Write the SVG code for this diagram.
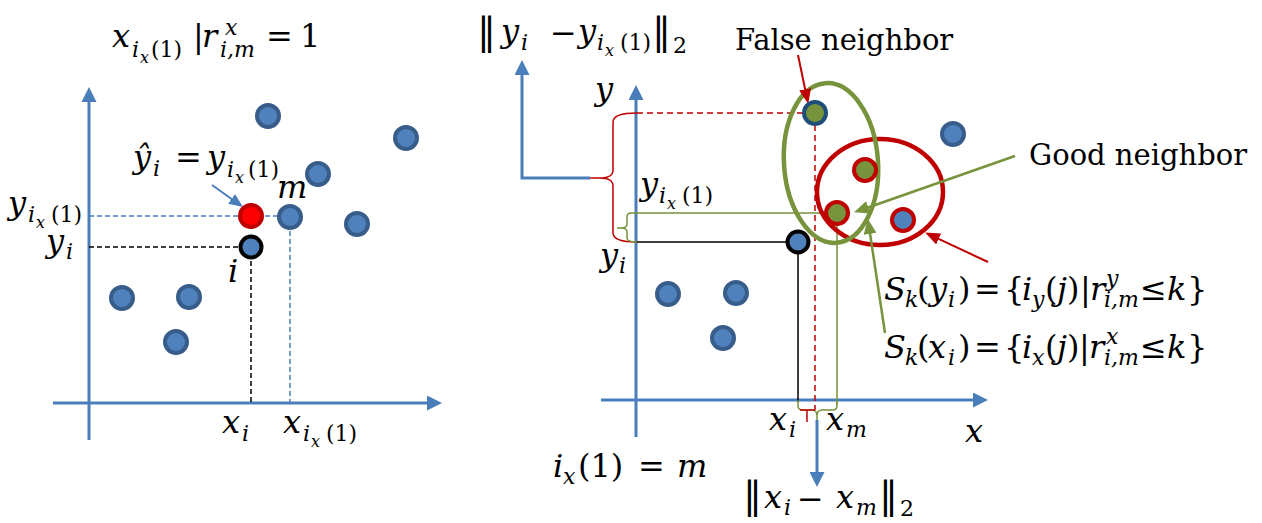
<svg xmlns="http://www.w3.org/2000/svg" width="1262" height="523" viewBox="0 0 1262 523">
<style>
text{font-family:"DejaVu Serif","Liberation Serif",serif;fill:#000}
.t{font-size:29px}
.m{font-size:32px;font-style:italic}
.s{font-size:22px}
.ss{font-size:16px}
.n{font-style:normal}
.nb{font-style:normal;font-size:38px}
.ax{stroke:#4A7EBB;stroke-width:3;fill:none}
.pt{fill:#4F81BD;stroke:#385D8A;stroke-width:4}
.pr{fill:#FF0000;stroke:#C00000;stroke-width:4}
.pi{fill:#4F81BD;stroke:#000;stroke-width:4}
.pg{fill:#77933C;stroke:#C00000;stroke-width:4}
.pf{fill:#77933C;stroke:#1F4E79;stroke-width:4}
.pb{fill:#4F81BD;stroke:#C00000;stroke-width:4}
.db{stroke:#4A7EBB;stroke-width:1.5;stroke-dasharray:5 3;fill:none}
.dk{stroke:#000;stroke-width:1.5;stroke-dasharray:5 3;fill:none}
.dr{stroke:#C00000;stroke-width:1.5;stroke-dasharray:6 4;fill:none}
</style>
<defs>
<marker id="axb" markerWidth="15" markerHeight="15" refX="5" refY="7.5" orient="auto" markerUnits="userSpaceOnUse"><path d="M0,0 L15,7.5 L0,15 z" fill="#4A7EBB"/></marker>
<marker id="sb" markerWidth="14" markerHeight="12" refX="10" refY="6" orient="auto" markerUnits="userSpaceOnUse"><path d="M0,0 L14,6 L0,12 z" fill="#4A7EBB"/></marker>
<marker id="sr" markerWidth="15" markerHeight="12" refX="10" refY="6" orient="auto" markerUnits="userSpaceOnUse"><path d="M0,0 L15,6 L0,12 z" fill="#C00000"/></marker>
<marker id="sg" markerWidth="15" markerHeight="13" refX="10" refY="6.5" orient="auto" markerUnits="userSpaceOnUse"><path d="M0,0 L15,6.5 L0,13 z" fill="#77933C"/></marker>
</defs>
<rect width="1262" height="523" fill="#fff"/>

<g id="connectors">
  <!-- left chart -->
  <line class="ax" x1="89" y1="440" x2="89" y2="97" marker-end="url(#axb)"/>
  <line class="ax" x1="53" y1="403" x2="432" y2="403" marker-end="url(#axb)"/>
  <path class="db" d="M89 216 H290 V403"/>
  <path class="dk" d="M89 247 H251 V403"/>
  <line x1="212" y1="185" x2="239.7" y2="204.7" stroke="#4A7EBB" stroke-width="2" marker-end="url(#sb)"/>
  <!-- right chart -->
  <line class="ax" x1="636" y1="437" x2="636" y2="95" marker-end="url(#axb)"/>
  <line class="ax" x1="601" y1="400" x2="978" y2="400" marker-end="url(#axb)"/>
  <path class="dr" d="M637 113 H815 V410"/>
  <path d="M637 113 Q613 113 613 122 L613 170 Q613 178 600 178 L590 178 M600 178 Q613 178 613 186 L613 233 Q613 242 637 242" stroke="#C00000" stroke-width="1.5" fill="none"/>
  <path d="M590 178 L522 178 L522 70" class="ax" marker-end="url(#axb)"/>
  <path d="M837 213 L631 213 Q627 213 627 217 L627 224 Q627 228 621 228 L617 228 M621 228 Q627 228 627 232 L627 238 Q627 242 637 242" stroke="#77933C" stroke-width="1.5" fill="none"/>
  <path d="M637 242 H798 V402" stroke="#000" stroke-width="1.5" fill="none"/>
  <path d="M837 213 V404" stroke="#77933C" stroke-width="1.5" fill="none"/>
  <path d="M798 400 L798 406 Q798 410 803 410 L812 410 Q817 410 817 416 L817 420 M817 416 Q817 410 822 410 L832 410 Q837 410 837 406 L837 400" stroke="#77933C" stroke-width="1.5" fill="none"/>
  <path d="M800 410 H815 M807 410 V422" stroke="#C00000" stroke-width="1.5" fill="none"/>
  <line class="ax" x1="817" y1="420" x2="817" y2="477" marker-end="url(#axb)"/>
  <ellipse cx="880" cy="192" rx="63" ry="53" fill="none" stroke="#C00000" stroke-width="4.5"/>
  <ellipse cx="831" cy="163" rx="47" ry="80" fill="none" stroke="#77933C" stroke-width="4.5" transform="rotate(-4 831 163)"/>
  <line x1="798" y1="55" x2="807.2" y2="99.1" stroke="#C00000" stroke-width="2" marker-end="url(#sr)"/>
  <line x1="1015" y1="156" x2="858.8" y2="210.7" stroke="#77933C" stroke-width="2.5" marker-end="url(#sg)"/>
  <line x1="885" y1="333" x2="868.6" y2="224" stroke="#77933C" stroke-width="2.5" marker-end="url(#sg)"/>
  <line x1="988" y1="262" x2="929.6" y2="234.7" stroke="#C00000" stroke-width="2" marker-end="url(#sr)"/>
</g>

<g id="left-points">
  <g id="L1"><circle class="pt" cx="268" cy="116" r="11"/></g>
  <g id="L2"><circle class="pt" cx="406" cy="138" r="11"/></g>
  <g id="L3"><circle class="pt" cx="318" cy="174" r="11"/></g>
  <g id="Lm"><circle class="pt" cx="290" cy="217" r="11"/></g>
  <g id="L5"><circle class="pt" cx="357" cy="224" r="11"/></g>
  <g id="Lhat"><circle class="pr" cx="251" cy="216" r="11"/></g>
  <g id="Li"><circle class="pi" cx="251" cy="247" r="10.5"/></g>
  <g id="L7"><circle class="pt" cx="122" cy="298" r="11"/></g>
  <g id="L8"><circle class="pt" cx="189" cy="297" r="11"/></g>
  <g id="L9"><circle class="pt" cx="176" cy="342" r="11"/></g>
</g>

<g id="right-points">
  <g id="Rfalse"><circle class="pf" cx="815" cy="113" r="11"/></g>
  <g id="Rg1"><circle class="pg" cx="865" cy="170" r="11"/></g>
  <g id="Rgood"><circle class="pg" cx="837" cy="213" r="11"/></g>
  <g id="Rb1"><circle class="pb" cx="903" cy="220" r="11"/></g>
  <g id="Rb2"><circle class="pt" cx="953" cy="134" r="11"/></g>
  <g id="Ri"><circle class="pi" cx="798" cy="242" r="10.5"/></g>
  <g id="R7"><circle class="pt" cx="668" cy="294" r="11"/></g>
  <g id="R8"><circle class="pt" cx="736" cy="293" r="11"/></g>
  <g id="R9"><circle class="pt" cx="723" cy="338" r="11"/></g>
</g>

<g id="labels">
  <!-- title left -->
  <text class="m"><tspan x="112" y="47">x</tspan><tspan class="s" x="132" y="57">i</tspan><tspan class="ss" x="140" y="63">x</tspan><tspan class="s n" x="151" y="57">(1)</tspan><tspan class="n" x="193" y="47">|</tspan><tspan x="202" y="47">r</tspan><tspan class="s" x="225" y="35">x</tspan><tspan class="s" x="220" y="57">i,m</tspan><tspan class="n" x="266" y="47">=</tspan><tspan class="n" x="300" y="47">1</tspan></text>
  <!-- y hat -->
  <text class="m"><tspan x="133" y="168">ŷ</tspan><tspan class="s" x="153" y="176">i</tspan><tspan class="n" x="175" y="168">=</tspan><tspan x="207" y="168">y</tspan><tspan class="s" x="227" y="177">i</tspan><tspan class="ss" x="235" y="183">x</tspan><tspan class="s n" x="248" y="177">(1)</tspan></text>
  <text class="m" x="277" y="198">m</text>
  <text class="m"><tspan x="8" y="214">y</tspan><tspan class="s" x="28" y="222">i</tspan><tspan class="ss" x="36" y="228">x</tspan><tspan class="s n" x="51" y="222">(1)</tspan></text>
  <text class="m"><tspan x="46" y="252">y</tspan><tspan class="s" x="66" y="259">i</tspan></text>
  <text class="m" x="228" y="282">i</text>
  <text class="m"><tspan x="222" y="433">x</tspan><tspan class="s" x="242" y="441">i</tspan></text>
  <text class="m"><tspan x="283" y="433">x</tspan><tspan class="s" x="303" y="441">i</tspan><tspan class="ss" x="311" y="447">x</tspan><tspan class="s n" x="326" y="441">(1)</tspan></text>

  <!-- right chart -->
  <text class="m"><tspan class="nb" x="477" y="44">‖</tspan><tspan x="501" y="42">y</tspan><tspan class="s" x="521" y="50">i</tspan><tspan class="n" x="550" y="44">−</tspan><tspan x="578" y="42">y</tspan><tspan class="s" x="597" y="50">i</tspan><tspan class="ss" x="605" y="56">x</tspan><tspan class="s n" x="620" y="50">(1)</tspan><tspan class="nb" x="652" y="44">‖</tspan><tspan class="s n" x="673" y="53">2</tspan></text>
  <text class="t" x="735" y="50">False neighbor</text>
  <text class="t" x="1029" y="165">Good neighbor</text>
  <text class="m" x="595" y="100">y</text>
  <text class="m"><tspan x="640" y="195">y</tspan><tspan class="s" x="659" y="203">i</tspan><tspan class="ss" x="667" y="209">x</tspan><tspan class="s n" x="682" y="203">(1)</tspan></text>
  <text class="m"><tspan x="600" y="266">y</tspan><tspan class="s" x="619" y="273">i</tspan></text>
  <text class="m"><tspan x="769" y="430">x</tspan><tspan class="s" x="789" y="437">i</tspan></text>
  <text class="m"><tspan x="826" y="430">x</tspan><tspan class="s" x="846" y="437">m</tspan></text>
  <text class="m" x="965" y="442">x</text>
  <text class="m"><tspan x="553" y="477">i</tspan><tspan class="s" x="563" y="484">x</tspan><tspan class="n" x="578" y="477">(1)</tspan><tspan class="n" x="638" y="477">=</tspan><tspan x="677" y="477">m</tspan></text>
  <text class="m"><tspan class="nb" x="743" y="508">‖</tspan><tspan x="764" y="508">x</tspan><tspan class="s" x="784" y="515">i</tspan><tspan class="n" x="797" y="510">−</tspan><tspan x="836" y="508">x</tspan><tspan class="s" x="856" y="515">m</tspan><tspan class="nb" x="879" y="508">‖</tspan><tspan class="s n" x="900" y="516">2</tspan></text>

  <text class="m"><tspan x="884" y="300">S</tspan><tspan class="s" x="905" y="307">k</tspan><tspan class="n" x="917" y="300">(</tspan><tspan x="929" y="300">y</tspan><tspan class="s" x="948" y="307">i</tspan><tspan class="n" x="958" y="300">)</tspan><tspan class="n" x="974" y="300">=</tspan><tspan class="n" x="1004" y="300">{</tspan><tspan x="1022" y="300">i</tspan><tspan class="s" x="1032" y="307">y</tspan><tspan class="n" x="1045" y="300">(</tspan><tspan x="1057" y="300">j</tspan><tspan class="n" x="1067" y="300">)</tspan><tspan class="n" x="1080" y="300">|</tspan><tspan x="1090" y="300">r</tspan><tspan class="s" x="1106" y="286">y</tspan><tspan class="s" x="1104" y="307">i,m</tspan><tspan class="n" x="1140" y="300">≤</tspan><tspan x="1167" y="300">k</tspan><tspan class="n" x="1187" y="300">}</tspan></text>
  <text class="m"><tspan x="884" y="358">S</tspan><tspan class="s" x="905" y="365">k</tspan><tspan class="n" x="917" y="358">(</tspan><tspan x="928" y="358">x</tspan><tspan class="s" x="948" y="365">i</tspan><tspan class="n" x="958" y="358">)</tspan><tspan class="n" x="974" y="358">=</tspan><tspan class="n" x="1004" y="358">{</tspan><tspan x="1022" y="358">i</tspan><tspan class="s" x="1032" y="365">x</tspan><tspan class="n" x="1045" y="358">(</tspan><tspan x="1057" y="358">j</tspan><tspan class="n" x="1067" y="358">)</tspan><tspan class="n" x="1079" y="358">|</tspan><tspan x="1089" y="358">r</tspan><tspan class="s" x="1106" y="344">x</tspan><tspan class="s" x="1104" y="365">i,m</tspan><tspan class="n" x="1140" y="358">≤</tspan><tspan x="1167" y="358">k</tspan><tspan class="n" x="1187" y="358">}</tspan></text>
</g>
</svg>
